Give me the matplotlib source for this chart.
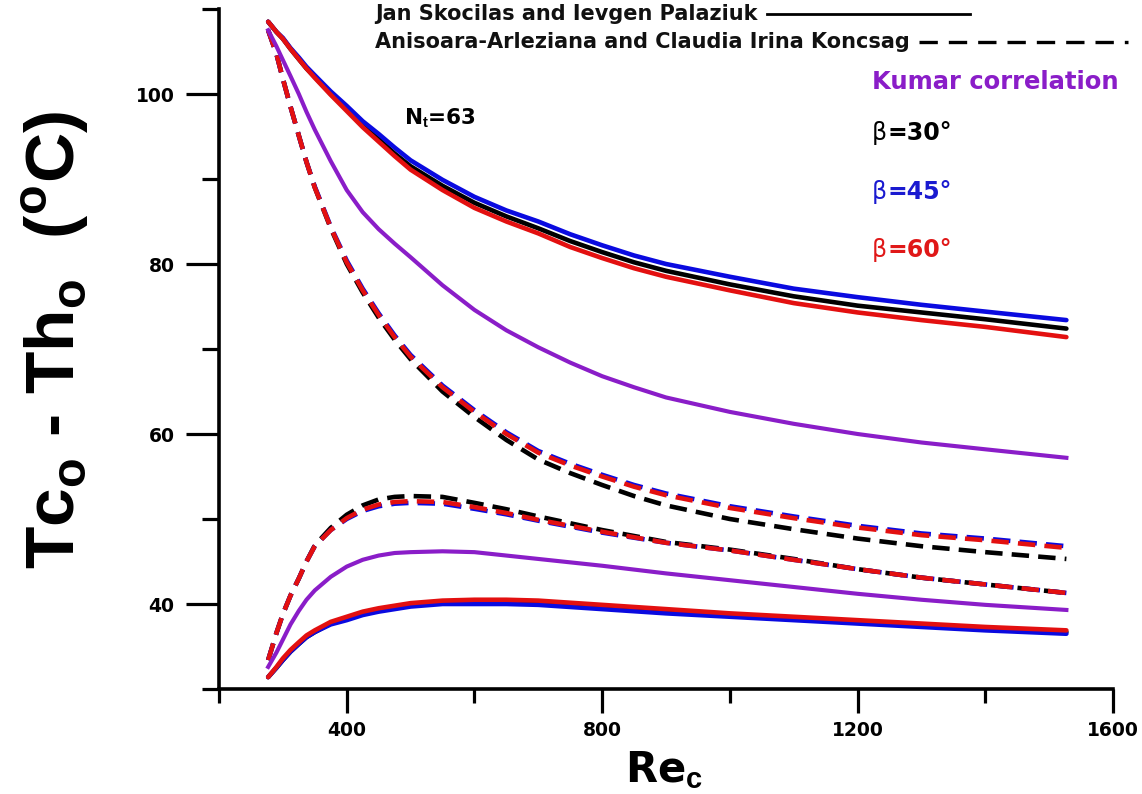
import matplotlib
matplotlib.use('Agg')
import matplotlib.pyplot as plt
from matplotlib.lines import Line2D
from matplotlib.ticker import FixedLocator

plt.rcParams['mathtext.fontset'] = 'custom'
plt.rcParams['mathtext.rm'] = 'Liberation Sans'
plt.rcParams['mathtext.bf'] = 'Liberation Sans:bold'

# Re_c values where the curves were read
re_c = [277, 290, 300, 312, 325, 337, 350, 375, 400, 425, 450, 475, 500, 550, 600, 650, 700,
        750, 800, 850, 900, 1000, 1100, 1200, 1300, 1400, 1527]

# Jan Skocilas and Ievgen Palaziuk (solid) - upper branch
sk_up_30 = [108.5, 107.3, 106.5, 105.3, 104.1, 103.0, 102.0, 100.0, 98.2, 96.3, 94.7, 93.0, 91.5,
            89.2, 87.2, 85.6, 84.2, 82.7, 81.4, 80.2, 79.2, 77.6, 76.2, 75.1, 74.3, 73.5, 72.4]
sk_up_45 = [108.5, 107.3, 106.6, 105.4, 104.3, 103.2, 102.2, 100.3, 98.6, 96.8, 95.3, 93.7, 92.2,
            89.9, 87.9, 86.3, 85.0, 83.5, 82.2, 81.0, 80.0, 78.5, 77.1, 76.1, 75.2, 74.4, 73.4]
sk_up_60 = [108.5, 107.3, 106.5, 105.3, 104.1, 103.0, 101.9, 99.9, 98.0, 96.1, 94.4, 92.7, 91.1,
            88.7, 86.6, 85.0, 83.6, 82.0, 80.7, 79.5, 78.5, 76.9, 75.4, 74.3, 73.4, 72.6, 71.4]
# lower branch
sk_lo_30 = [31.4, 32.5, 33.4, 34.4, 35.3, 36.1, 36.7, 37.7, 38.3, 38.9, 39.3, 39.6, 39.9,
            40.2, 40.3, 40.3, 40.2, 39.95, 39.7, 39.45, 39.2, 38.7, 38.3, 37.9, 37.5, 37.1, 36.7]
sk_lo_45 = [31.4, 32.5, 33.4, 34.4, 35.3, 36.1, 36.7, 37.6, 38.1, 38.7, 39.1, 39.4, 39.7,
            40.0, 40.0, 40.0, 39.9, 39.65, 39.4, 39.15, 38.9, 38.5, 38.1, 37.7, 37.3, 36.9, 36.5]
sk_lo_60 = [31.4, 32.6, 33.6, 34.6, 35.5, 36.3, 36.9, 37.9, 38.5, 39.1, 39.5, 39.8, 40.1,
            40.4, 40.5, 40.5, 40.4, 40.15, 39.9, 39.65, 39.4, 38.9, 38.5, 38.1, 37.7, 37.3, 36.9]

# Anisoara-Arleziana and Claudia Irina Koncsag (dashed)
ko_up_30 = [107.5, 104.7, 101.8, 98.5, 95.1, 92.0, 89.0, 84.2, 80.0, 76.65, 73.7, 71.1, 68.8,
            65.0, 62.0, 59.3, 57.0, 55.4, 54.0, 52.7, 51.6, 50.0, 48.8, 47.7, 46.8, 46.1, 45.3]
ko_up_45 = [107.5, 104.7, 101.8, 98.5, 95.1, 92.0, 89.1, 84.4, 80.4, 77.1, 74.2, 71.6, 69.3,
            65.7, 62.8, 60.2, 58.0, 56.5, 55.2, 54.0, 53.0, 51.5, 50.3, 49.2, 48.3, 47.7, 46.8]
ko_up_60 = [107.5, 104.7, 101.8, 98.5, 95.1, 92.0, 89.0, 84.3, 80.2, 76.9, 74.0, 71.4, 69.1,
            65.5, 62.6, 60.0, 57.8, 56.3, 55.0, 53.8, 52.8, 51.3, 50.1, 49.0, 48.1, 47.5, 46.6]
ko_lo_30 = [33.4, 36.6, 38.8, 41.0, 43.0, 45.0, 46.9, 48.95, 50.5, 51.6, 52.3, 52.6, 52.7,
            52.6, 51.9, 51.15, 50.3, 49.5, 48.7, 48.0, 47.3, 46.4, 45.3, 44.1, 43.1, 42.3, 41.3]
ko_lo_45 = [33.4, 36.6, 38.8, 41.0, 43.0, 45.0, 46.8, 48.7, 50.0, 50.95, 51.5, 51.8, 51.9,
            51.8, 51.2, 50.55, 49.8, 49.1, 48.4, 47.8, 47.2, 46.3, 45.2, 44.1, 43.1, 42.3, 41.3]
ko_lo_60 = [33.4, 36.6, 38.8, 41.0, 43.0, 45.0, 46.8, 48.7, 50.1, 51.1, 51.7, 52.0, 52.1,
            52.0, 51.4, 50.7, 49.9, 49.2, 48.5, 47.85, 47.2, 46.3, 45.2, 44.1, 43.1, 42.3, 41.3]

# Kumar correlation
ku_up = [107.5, 105.6, 104.0, 102.1, 100.0, 97.9, 95.8, 92.1, 88.7, 86.1, 84.1, 82.4, 80.8,
         77.5, 74.6, 72.2, 70.2, 68.4, 66.8, 65.5, 64.3, 62.6, 61.2, 60.0, 59.0, 58.2, 57.2]
ku_lo = [32.6, 34.3, 35.8, 37.6, 39.2, 40.5, 41.6, 43.2, 44.4, 45.2, 45.7, 46.0, 46.1,
         46.2, 46.1, 45.7, 45.3, 44.9, 44.5, 44.05, 43.6, 42.8, 42.0, 41.2, 40.5, 39.9, 39.3]

x_major = [400, 800, 1200, 1600]
x_minor = [200, 600, 1000, 1400]
y_major = [40, 60, 80, 100]
y_minor = [30, 50, 70, 90, 110]

c30 = 'black'
c45 = '#0a0ae0'
c60 = '#e31010'
c_ku = '#8a1dc8'

W, H = 1142, 794
fig = plt.figure(figsize=(W / 100, H / 100), dpi=100)
ax = fig.add_axes([219 / W, 1 - 689 / H, 894 / W, 680 / H])

lw = 3.3
dash = (3.8, 2.0)

# solid curves
for ys, c in [(sk_up_30, c30), (sk_up_45, c45), (sk_up_60, c60),
              (sk_lo_30, c30), (sk_lo_45, c45), (sk_lo_60, c60)]:
    ax.plot(re_c, ys, color=c, lw=lw, solid_capstyle='round', solid_joinstyle='round')

# dashed curves
for ys, c in [(ko_up_30, c30), (ko_up_45, c45), (ko_up_60, c60),
              (ko_lo_30, c30), (ko_lo_45, c45), (ko_lo_60, c60)]:
    ax.plot(re_c, ys, color=c, lw=lw, dashes=dash, dash_joinstyle='round')

# Kumar correlation
ax.plot(re_c, ku_up, color=c_ku, lw=lw * 0.9, solid_joinstyle='round')
ax.plot(re_c, ku_lo, color=c_ku, lw=lw * 0.9, solid_joinstyle='round')

ax.set_xlim(200, 1600)
ax.set_ylim(30, 110)
for s in ['top', 'right']:
    ax.spines[s].set_visible(False)
for s in ['left', 'bottom']:
    ax.spines[s].set_linewidth(2.6)

ax.xaxis.set_major_locator(FixedLocator(x_major))
ax.xaxis.set_minor_locator(FixedLocator(x_minor))
ax.yaxis.set_major_locator(FixedLocator(y_major))
ax.yaxis.set_minor_locator(FixedLocator(y_minor))
ax.tick_params(axis='x', which='major', direction='out', length=17, width=2.3, pad=6, labelsize=13.5)
ax.tick_params(axis='x', which='minor', direction='out', length=10, width=2.3)
ax.tick_params(axis='y', which='major', direction='out', length=24, width=2.3, pad=8, labelsize=13.5)
ax.tick_params(axis='y', which='minor', direction='out', length=12, width=2.3)
for lab in ax.get_xticklabels() + ax.get_yticklabels():
    lab.set_fontweight('bold')
    lab.set_fontfamily('DejaVu Sans')

# axis labels
fig.text(56 / W, 1 - 340 / H, 'Tc$_\\mathbf{o}$ - Th$_\\mathbf{o}$  ($^\\mathbf{o}$C)',
         rotation=90, ha='center', va='center', fontsize=50, fontweight='bold',
         family=['Liberation Sans Narrow', 'Liberation Sans'])
fig.text(664 / W, 1 - 782 / H, 'Re$_\\mathbf{c}$', ha='center', va='baseline',
         fontsize=30, fontweight='bold', family='DejaVu Sans')

# annotations
fig.text(872 / W, 1 - 82 / H, 'Kumar correlation', color=c_ku, ha='left', va='center',
         fontsize=17.5, fontweight='bold', family='DejaVu Sans')
for yy, lab, c in [(133, '=30°', c30), (192, '=45°', '#1a1ad0'), (250, '=60°', '#e01818')]:
    tb = fig.text(872 / W, 1 - yy / H, 'β', color=c, ha='left', va='center',
                  fontsize=17, family='DejaVu Sans')
    ax.annotate(lab, xy=(1, 0), xycoords=tb, ha='left', va='bottom', color=c,
                fontsize=17, fontweight='bold', family='DejaVu Sans',
                annotation_clip=False)
fig.text(404 / W, 1 - 118 / H, 'N$_\\mathbf{t}$=63', ha='left', va='center',
         fontsize=15.5, fontweight='bold', family='DejaVu Sans')

# legend rows: text followed by a line sample
t1 = fig.text(375 / W, 1 - 14 / H, 'Jan Skocilas and Ievgen Palaziuk', ha='left', va='center',
              fontsize=15, fontweight='bold', family='DejaVu Sans', color='#111111')
t2 = fig.text(375 / W, 1 - 42 / H, 'Anisoara-Arleziana and Claudia Irina Koncsag', ha='left',
              va='center', fontsize=15, fontweight='bold', family='DejaVu Sans', color='#111111')
fig.canvas.draw()
r = fig.canvas.get_renderer()
b1 = t1.get_window_extent(r)
b2 = t2.get_window_extent(r)
fig.add_artist(Line2D([(b1.x1 + 9) / W, 970 / W], [1 - 14 / H, 1 - 14 / H],
                      transform=fig.transFigure, color='black', lw=2.0))
fig.add_artist(Line2D([(b2.x1 + 9) / W, 1128 / W], [1 - 42 / H, 1 - 42 / H],
                      transform=fig.transFigure, color='black', lw=2.4, dashes=(5.5, 3.3)))

fig.savefig('out.png', dpi=100)
